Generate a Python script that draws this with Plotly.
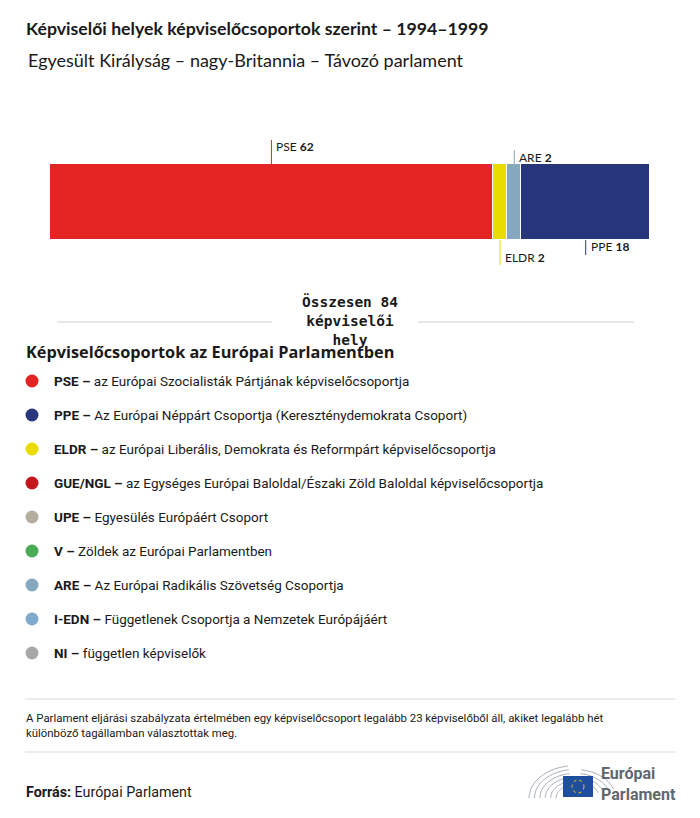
import plotly.graph_objects as go
import numpy as np

W, H = 700, 818

# ---- data ----
groups = ["PSE", "ELDR", "ARE", "PPE"]
seats = [62, 2, 2, 18]
bar_colors = ["#E42422", "#E8DC00", "#86A8BF", "#27367A"]

legend_abbr = ["PSE", "PPE", "ELDR", "GUE/NGL", "UPE", "V", "ARE", "I-EDN", "NI"]
legend_desc = [
    "az Európai Szocialisták Pártjának képviselőcsoportja",
    "Az Európai Néppárt Csoportja (Kereszténydemokrata Csoport)",
    "az Európai Liberális, Demokrata és Reformpárt képviselőcsoportja",
    "az Egységes Európai Baloldal/Északi Zöld Baloldal képviselőcsoportja",
    "Egyesülés Európáért Csoport",
    "Zöldek az Európai Parlamentben",
    "Az Európai Radikális Szövetség Csoportja",
    "Függetlenek Csoportja a Nemzetek Európájáért",
    "független képviselők",
]
legend_colors = ["#E42422", "#27367A", "#E8DC00", "#C4161C", "#B5ADA0",
                 "#4BAA55", "#86A8BF", "#7FAACB", "#A8A8A8"]

total = sum(seats)

def px(x):
    return x / W

def py(y):
    return 1 - y / H

fig = go.Figure()

# stacked bar
for g, s, c in zip(groups, seats, bar_colors):
    fig.add_trace(go.Bar(
        x=[s], y=[0], orientation="h", name=g, width=1,
        marker=dict(color=c, line=dict(color="white", width=1)),
        hoverinfo="x+name", showlegend=False,
    ))

# legend dots on a full-page pixel axis
leg_y = [381 + 34 * i for i in range(len(legend_abbr))]
fig.add_trace(go.Scatter(
    x=[32] * len(legend_abbr), y=leg_y, mode="markers",
    marker=dict(color=legend_colors, size=13),
    xaxis="x2", yaxis="y2", showlegend=False, hoverinfo="skip",
))

fig.update_layout(
    width=W, height=H, margin=dict(l=0, r=0, t=0, b=0),
    paper_bgcolor="white", plot_bgcolor="rgba(0,0,0,0)",
    barmode="stack", bargap=0,
    xaxis=dict(domain=[px(50), px(650)], range=[0, total], visible=False, fixedrange=True),
    yaxis=dict(domain=[py(240), py(164)], range=[-0.5, 0.5], visible=False, fixedrange=True),
    xaxis2=dict(domain=[0, 1], range=[0, W], visible=False, anchor="y2", fixedrange=True),
    yaxis2=dict(domain=[0, 1], range=[H, 0], visible=False, anchor="x2", fixedrange=True),
    showlegend=False,
)

ann = []
shapes = []

# titles
ann.append(dict(x=px(24), y=py(29), xref="paper", yref="paper", xanchor="left", yanchor="middle",
                text="<b>Képviselői helyek képviselőcsoportok szerint – 1994–1999</b>", showarrow=False,
                font=dict(family="Lato", size=17.7, color="#1a1a1a")))
ann.append(dict(x=px(26), y=py(60), xref="paper", yref="paper", xanchor="left", yanchor="middle",
                text="Egyesült Királyság – nagy-Britannia – Távozó parlament", showarrow=False,
                font=dict(family="Lato", size=18, color="#1a1a1a")))

# bar labels
cum = np.cumsum([0] + seats)
# (line start y, line end y, text y)
label_style = {
    "PSE": (140, 164, 146),
    "ELDR": (240, 265, 258),
    "ARE": (150, 164, 157),
    "PPE": (240, 255, 247),
}
for i, g in enumerate(groups):
    mid = (cum[i] + cum[i + 1]) / 2
    y0, y1, ty = label_style[g]
    shapes.append(dict(type="line", xref="x", yref="paper", x0=mid, x1=mid,
                       y0=py(y0), y1=py(y1), line=dict(color=bar_colors[i], width=1)))
    ann.append(dict(x=mid, y=py(ty), xref="x", yref="paper", xanchor="left", yanchor="middle",
                    xshift=3, text=f"{g} <b>{seats[i]}</b>", showarrow=False,
                    font=dict(family="Lato", size=12, color="#1a1a1a")))

# total
shapes.append(dict(type="line", xref="paper", yref="paper", x0=px(57), x1=px(272), y0=py(322), y1=py(322),
                   line=dict(color="#cfcfcf", width=1)))
shapes.append(dict(type="line", xref="paper", yref="paper", x0=px(418), x1=px(634), y0=py(322), y1=py(322),
                   line=dict(color="#cfcfcf", width=1)))
ann.append(dict(x=px(350), y=py(321), xref="paper", yref="paper", xanchor="center", yanchor="middle",
                text=f"<b>Összesen {total}<br>képviselői<br>hely</b>", showarrow=False,
                font=dict(family="DejaVu Sans Mono", size=14.5, color="#1a1a1a")))

# legend heading
ann.append(dict(x=px(24), y=py(352), xref="paper", yref="paper", xanchor="left", yanchor="middle",
                text="<b>Képviselőcsoportok az Európai Parlamentben</b>", showarrow=False,
                font=dict(family="Open Sans", size=16.3, color="#1a1a1a")))

for i, (a, d) in enumerate(zip(legend_abbr, legend_desc)):
    ann.append(dict(x=px(52), y=py(leg_y[i]), xref="paper", yref="paper", xanchor="left", yanchor="middle",
                    text=f"<b>{a} –</b> {d}", showarrow=False,
                    font=dict(family="Roboto", size=13.5, color="#1a1a1a")))

# footer
shapes.append(dict(type="line", xref="paper", yref="paper", x0=px(25), x1=px(675), y0=py(699), y1=py(699),
                   line=dict(color="#d9d9d9", width=1)))
shapes.append(dict(type="line", xref="paper", yref="paper", x0=px(25), x1=px(675), y0=py(752), y1=py(752),
                   line=dict(color="#d9d9d9", width=1)))
ann.append(dict(x=px(24), y=py(725), xref="paper", yref="paper", xanchor="left", yanchor="middle", align="left",
                text="A Parlament eljárási szabályzata értelmében egy képviselőcsoport legalább 23 képviselőből áll, akiket legalább hét<br>különböző tagállamban választottak meg.",
                showarrow=False, font=dict(family="Roboto", size=11.4, color="#1a1a1a")))
ann.append(dict(x=px(24), y=py(792), xref="paper", yref="paper", xanchor="left", yanchor="middle",
                text="<b>Forrás:</b> Európai Parlament", showarrow=False,
                font=dict(family="Roboto", size=14.3, color="#1a1a1a")))

# logo: hemicycle arcs
cx, cy = 575, 798
for r in [14, 18, 22, 26, 30, 34]:
    t = np.linspace(np.pi * 0.55, np.pi * 1.0, 20)
    pts = [(cx + r * np.cos(a) * 1.35, cy - r * np.sin(a) * 0.95) for a in t]
    path = "M " + " L ".join(f"{px(x):.5f},{py(y):.5f}" for x, y in pts)
    shapes.append(dict(type="path", xref="paper", yref="paper", path=path,
                       line=dict(color="#a9b0b8", width=1)))
for r in [14, 18, 22, 26, 30]:
    t = np.linspace(np.pi * 0.1, np.pi * 0.45, 12)
    pts = [(cx + r * np.cos(a) * 1.35, cy - r * np.sin(a) * 0.95) for a in t]
    path = "M " + " L ".join(f"{px(x):.5f},{py(y):.5f}" for x, y in pts)
    shapes.append(dict(type="path", xref="paper", yref="paper", path=path,
                       line=dict(color="#a9b0b8", width=1)))
shapes.append(dict(type="rect", xref="paper", yref="paper", x0=px(563), x1=px(593), y0=py(797), y1=py(776),
                   fillcolor="#1F4E9E", line=dict(width=0)))
shapes.append(dict(type="circle", xref="paper", yref="paper", x0=px(572), x1=px(584), y0=py(793), y1=py(780),
                   line=dict(color="#F2D100", width=1, dash="dot")))
ann.append(dict(x=px(599), y=py(784), xref="paper", yref="paper", xanchor="left", yanchor="middle", align="left",
                text="<b>Európai<br>Parlament</b>", showarrow=False,
                font=dict(family="Roboto", size=16, color="#5f6770")))

fig.update_layout(annotations=ann, shapes=shapes)
fig.write_html("out.html", config={"displayModeBar": False},
               post_script="document.body.style.margin='0';")
